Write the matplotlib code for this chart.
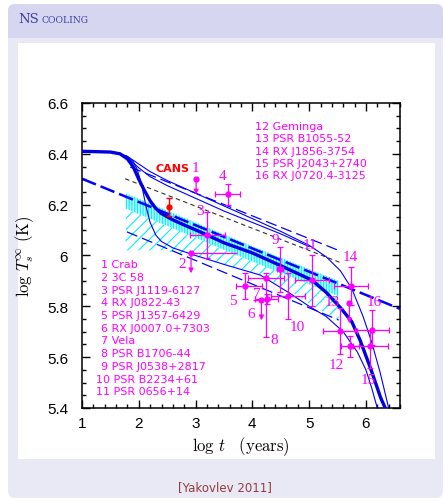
import numpy as np
import matplotlib.pyplot as plt
from matplotlib.patches import FancyBboxPatch, Rectangle
from matplotlib.ticker import MultipleLocator, FormatStrFormatter

plt.rcParams['mathtext.fontset'] = 'cm'
plt.rcParams['hatch.linewidth'] = 0.8

# ---- data (log t [yr], log Ts [K]) ----
# main cooling curve (thick)
main_x = [1.0, 1.5, 1.67, 1.8, 1.9, 2.0, 2.1, 2.2, 2.3, 2.4, 2.6, 2.8, 3.08, 3.5, 4.0, 4.5, 5.05, 5.3, 5.55, 5.75, 5.9, 6.08, 6.26, 6.34]
main_y = [6.41, 6.407, 6.40, 6.38, 6.35, 6.30, 6.255, 6.215, 6.185, 6.165, 6.14, 6.12, 6.093, 6.05, 6.01, 5.96, 5.903, 5.855, 5.795, 5.74, 5.665, 5.557, 5.44, 5.40]
# upper thin curve
up_x = [1.0, 1.6, 1.8, 2.0, 2.2, 2.5, 3.0, 3.5, 4.0, 4.5, 5.0, 5.3, 5.55, 5.75, 5.95, 6.1, 6.25, 6.4]
up_y = [6.41, 6.405, 6.39, 6.36, 6.33, 6.295, 6.245, 6.195, 6.145, 6.095, 6.04, 5.995, 5.94, 5.87, 5.76, 5.66, 5.54, 5.40]
# second upper thin curve
up2_x = [1.0, 1.6, 1.8, 2.0, 2.2, 2.5, 3.0, 3.5, 4.0, 4.5, 5.0]
up2_y = [6.41, 6.405, 6.385, 6.345, 6.31, 6.275, 6.225, 6.175, 6.13, 6.085, 6.035]
# early-dropping thin curve
low_x = [1.0, 1.6, 1.8, 1.9, 1.97, 2.05, 2.12, 2.2, 2.3, 2.4, 2.6, 3.0, 3.5, 4.14, 4.67, 5.0, 5.3, 5.6, 5.85, 6.0, 6.1, 6.2]
low_y = [6.41, 6.405, 6.39, 6.37, 6.34, 6.28, 6.20, 6.13, 6.08, 6.055, 6.03, 6.0, 5.965, 5.923, 5.85, 5.80, 5.76, 5.70, 5.62, 5.55, 5.48, 5.40]
# dashed lines
dash_up_x = [1.85, 5.52]
dash_up_y = [6.348, 6.02]
dash_lo_x = [1.79, 5.52]
dash_lo_y = [6.093, 5.746]
dash_thick_x = [1.0, 6.6]
dash_thick_y = [6.302, 5.79]
dash_blk_x = [1.76, 5.55]
dash_blk_y = [6.302, 5.972]
# cyan band
band_x = [1.77, 3.96, 5.52]
band_top = [6.245, 6.04, 5.90]
band_mid = [6.185, 5.98, 5.84]
hatch_bot_x = [5.52, 5.0, 4.67, 4.14, 3.0, 2.4, 1.77]
hatch_bot_y = [5.745, 5.81, 5.86, 5.925, 5.995, 6.02, 6.02]

# observed sources: x, y, xerr(lo, hi), yerr(lo, hi)
src_x = [3.21, 3.57, 3.87, 4.25, 4.24, 4.49, 4.63, 5.05, 5.54, 5.715, 5.74, 6.08, 6.11]
src_y = [6.08, 6.24, 5.88, 5.83, 5.91, 5.945, 5.842, 5.903, 5.703, 5.642, 5.881, 5.642, 5.707]
src_xlo = [0.30, 0.22, 0.16, 0.20, 0.31, 0.05, 0.30, 0.30, 0.30, 0.16, 0.30, 0.30, 0.30]
src_xhi = [0.30, 0.22, 0.30, 0.20, 0.31, 0.05, 0.30, 0.30, 0.30, 0.16, 0.30, 0.30, 0.30]
src_ylo = [0.09, 0.04, 0.05, 0.02, 0.23, 0.087, 0.09, 0.10, 0.09, 0.04, 0.075, 0.085, 0.06]
src_yhi = [0.09, 0.04, 0.05, 0.02, 0.02, 0.087, 0.09, 0.10, 0.09, 0.04, 0.075, 0.06, 0.08]
# upper limits: x, y, arrow end, x-error (lo, hi)
lim_x = [3.01, 2.92, 4.16, 5.71]
lim_y = [6.30, 6.01, 5.824, 5.814]
lim_end = [6.24, 5.93, 5.745, 5.733]
lim_xlo = [0.0, 0.0, 0.15, 0.03]
lim_xhi = [0.0, 0.81, 0.15, 0.03]
# CANS
cans_x, cans_y, cans_err = 2.53, 6.19, 0.035

num_labels = ['1', '4', '3', '2', '5', '6', '7', '8', '9', '10', '11', '12', '13', '14', '15', '16']
num_x = [2.99, 3.47, 3.08, 2.76, 3.66, 3.98, 4.07, 4.39, 4.40, 4.79, 5.02, 5.48, 5.40, 5.73, 6.04, 6.15]
num_y = [6.345, 6.314, 6.178, 5.969, 5.824, 5.77, 5.851, 5.668, 6.063, 5.72, 6.044, 5.573, 5.818, 5.995, 5.511, 5.82]

names_left = ['1 Crab', '2 3C 58', '3 PSR J1119-6127', '4 RX J0822-43', '5 PSR J1357-6429',
              '6 RX J0007.0+7303', '7 Vela', '8 PSR B1706-44', '9 PSR J0538+2817',
              '10 PSR B2234+61', '11 PSR 0656+14']
names_right = ['12 Geminga', '13 PSR B1055-52', '14 RX J1856-3754', '15 PSR J2043+2740',
               '16 RX J0720.4-3125']

blue = '#0000ff'
mag = '#ff00ff'
cyan = '#00f0ff'

fig = plt.figure(figsize=(4.45, 5.02), dpi=100)

# ---- slide frame ----
bg = fig.add_axes([0, 0, 1, 1])
bg.set_xlim(0, 445)
bg.set_ylim(502, 0)
bg.axis('off')
bg.add_patch(FancyBboxPatch((8, 5), 435, 494, boxstyle='round,pad=0,rounding_size=7',
                            fc='#e9e9f6', ec='none'))
bg.add_patch(FancyBboxPatch((8, 5), 435, 34, boxstyle='round,pad=0,rounding_size=7',
                            fc='#d6d6f0', ec='none'))
bg.add_patch(Rectangle((8, 25), 435, 14, fc='#d6d6f0', ec='none'))
bg.add_patch(Rectangle((18, 44), 417, 416, fc='white', ec='none'))
bg.text(18, 23, 'NS', fontsize=9.5, family='DejaVu Serif', color='#3d3da8', va='baseline')
bg.text(42, 23, 'COOLING', fontsize=6.6, family='DejaVu Serif', color='#3d3da8', va='baseline')
bg.text(225, 488, '[Yakovlev 2011]', fontsize=8.5, family='DejaVu Sans', color='#933b3b',
        ha='center', va='center')

# ---- main plot ----
ax = fig.add_axes([82 / 445, (502 - 409) / 502, 318 / 445, 305 / 502])
ax.set_xlim(1, 6.6)
ax.set_ylim(5.4, 6.6)

# cyan hatched band
ax.fill(band_x + band_x[::-1], band_top + band_mid[::-1], facecolor='#b8f8ff',
        edgecolor=cyan, hatch='||||||', linewidth=0, zorder=1)
ax.fill(band_x + hatch_bot_x, band_mid + hatch_bot_y, facecolor='none',
        edgecolor=cyan, hatch='///', linewidth=0, zorder=1)

ax.plot(dash_thick_x, dash_thick_y, color=blue, lw=1.8, dashes=(6, 2), zorder=2)
ax.plot(dash_up_x, dash_up_y, color=blue, lw=0.9, dashes=(9, 4), zorder=2)
ax.plot(dash_lo_x, dash_lo_y, color=blue, lw=0.9, dashes=(9, 4), zorder=2)
ax.plot(dash_blk_x, dash_blk_y, color='#333333', lw=0.8, dashes=(4, 3), zorder=2)
ax.plot(up_x, up_y, color=blue, lw=0.8, zorder=2)
ax.plot(up2_x, up2_y, color=blue, lw=0.8, zorder=2)
ax.plot(low_x, low_y, color=blue, lw=0.8, zorder=2)
ax.plot(main_x, main_y, color='#0000e0', lw=2.4, zorder=3)

# observations
ax.errorbar(src_x, src_y, xerr=[src_xlo, src_xhi], yerr=[src_ylo, src_yhi], fmt='o',
            color=mag, ms=3.5, lw=0.9, capsize=2.5, capthick=0.9, zorder=4)
ax.errorbar(lim_x, lim_y, xerr=[lim_xlo, lim_xhi], fmt='o', color=mag, ms=3.5, lw=0.9,
            capsize=0, zorder=4)
for x, y, y1 in zip(lim_x, lim_y, lim_end):
    ax.annotate('', xy=(x, y1), xytext=(x, y),
                arrowprops=dict(arrowstyle='-|>', color=mag, lw=0.9, mutation_scale=7,
                                shrinkA=0, shrinkB=0), zorder=4)
ax.errorbar([cans_x], [cans_y], yerr=cans_err, fmt='o', color='red', ms=3.5, lw=1,
            capsize=2.5, zorder=4)
ax.text(2.6, 6.345, 'CANS', color='red', fontsize=8, fontweight='bold', ha='center',
        va='center', family='DejaVu Sans')

for s, x, y in zip(num_labels, num_x, num_y):
    ax.text(x, y, s, color=mag, fontsize=11, family='Liberation Serif', ha='center', va='center')

for i, s in enumerate(names_left):
    x0 = 1.25 if s[1] != ' ' else 1.33
    ax.text(x0, 5.966 - 0.05 * i, s, color=mag, fontsize=8, ha='left', va='center')
for i, s in enumerate(names_right):
    ax.text(4.05, 6.511 - 0.049 * i, s, color=mag, fontsize=8, ha='left', va='center')

ax.xaxis.set_major_locator(MultipleLocator(1))
ax.xaxis.set_minor_locator(MultipleLocator(0.2))
ax.yaxis.set_major_locator(MultipleLocator(0.2))
ax.yaxis.set_minor_locator(MultipleLocator(0.05))
ax.yaxis.set_major_formatter(FormatStrFormatter('%g'))
ax.tick_params(which='both', direction='in', top=True, right=True, width=1)
ax.tick_params(which='major', length=6, labelsize=11)
ax.tick_params(axis='x', which='major', pad=6)
ax.tick_params(axis='y', which='major', pad=10)
ax.tick_params(which='minor', length=3)
for lab in ax.get_xticklabels() + ax.get_yticklabels():
    lab.set_family('Liberation Sans')
for sp in ax.spines.values():
    sp.set_linewidth(1.1)

ax.set_xlabel(r'$\mathrm{log}\ t\quad \mathrm{(years)}$', fontsize=12, labelpad=3)
ax.set_ylabel(r'$\mathrm{log}\ T_s^{\infty}\ \mathrm{(K)}$', fontsize=12, labelpad=8)

plt.savefig('out.png', dpi=100)
